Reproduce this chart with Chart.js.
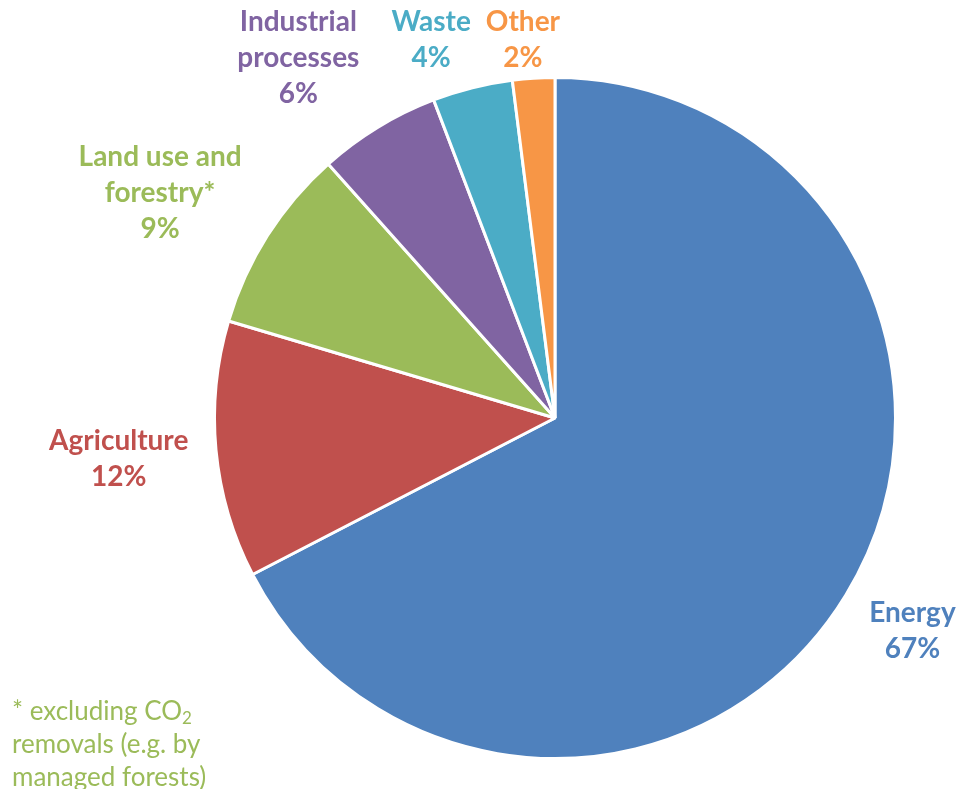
<!DOCTYPE html>
<html>
<head>
<meta charset="utf-8">
<script src="https://cdn.jsdelivr.net/npm/chart.js@4"></script>
<style>
  body { margin: 0; background: #fff; }
  #wrap { position: relative; width: 957px; height: 789px; }
  #note {
    position: absolute; left: 12px; top: 694px;
    font-family: Lato, sans-serif; font-size: 26px; line-height: 33px;
    color: #9BBB59;
  }
  #note sub { font-size: 17px; vertical-align: -4px; line-height: 0; }
</style>
</head>
<body>
<div id="wrap">
  <canvas id="pie" width="957" height="789"></canvas>
  <div id="note">* excluding CO<sub>2</sub><br>removals (e.g. by<br>managed forests)</div>
</div>
<script>
// sectors, clockwise from 12 o'clock
const categories = [
    ['Energy'],
    ['Agriculture'],
    ['Land use and', 'forestry*'],
    ['Industrial', 'processes'],
    ['Waste'],
    ['Other']
];
const shares = [67.4, 12.2, 8.8, 5.8, 3.8, 2.0];
const colours = ['#4F81BD', '#C0504D', '#9BBB59', '#8064A2', '#4BACC6', '#F79646'];
// small hand tweaks to the automatic label spot, [dx, dy] in px
const labelNudge = [[2, -3], [-5, 0], [-8, 21], [-18, 0], [-4, 0], [-7, 0]];

// draws "Name / NN%" outside each slice
const outsideLabels = {
    id: 'outsideLabels',
    afterDraw(chart) {
        const ctx = chart.ctx;
        const meta = chart.getDatasetMeta(0);
        const lineH = 36;
        ctx.save();
        ctx.font = 'bold 28px Lato, sans-serif';
        ctx.textAlign = 'center';
        ctx.textBaseline = 'middle';
        const boxes = meta.data.map((arc, i) => {
            const lines = categories[i].concat([Math.round(shares[i]) + '%']);
            const w = Math.max(...lines.map(l => ctx.measureText(l).width));
            const h = lines.length * lineH;
            const mid = (arc.startAngle + arc.endAngle) / 2;
            const ux = Math.cos(mid), uy = Math.sin(mid);
            const d = arc.outerRadius + 20 + Math.abs(ux) * w / 2 + Math.abs(uy) * h / 2;
            let cx = arc.x + ux * d;
            let cy = arc.y + uy * d;
            if (cy - h / 2 < 4) cy = 4 + h / 2;
            return { lines, w, h, cx, cy };
        });
        // push overlapping labels apart (walk back from the last slice)
        for (let i = boxes.length - 2; i >= 0; i--) {
            const a = boxes[i], b = boxes[i + 1];
            const vOverlap = Math.abs(a.cy - b.cy) < (a.h + b.h) / 2;
            const minGap = 18;
            if (vOverlap && a.cx < b.cx && a.cx + a.w / 2 > b.cx - b.w / 2 - minGap) {
                a.cx = b.cx - b.w / 2 - minGap - a.w / 2;
            }
        }
        boxes.forEach((b, i) => {
            const x = b.cx + labelNudge[i][0];
            const y = b.cy + labelNudge[i][1];
            ctx.fillStyle = colours[i];
            b.lines.forEach((l, j) => {
                ctx.fillText(l, x, y - b.h / 2 + lineH * (j + 0.5));
            });
        });
        ctx.restore();
    }
};

new Chart(document.getElementById('pie'), {
    type: 'pie',
    data: {
        labels: categories.map(c => c.join(' ')),
        datasets: [{
            data: shares,
            backgroundColor: colours,
            borderColor: '#ffffff',
            borderWidth: 3
        }]
    },
    options: {
        responsive: false,
        animation: false,
        layout: { padding: { top: 76, bottom: 29, left: 213, right: 60 } },
        plugins: {
            legend: { display: false },
            tooltip: { enabled: false }
        }
    },
    plugins: [outsideLabels]
});
</script>
</body>
</html>
